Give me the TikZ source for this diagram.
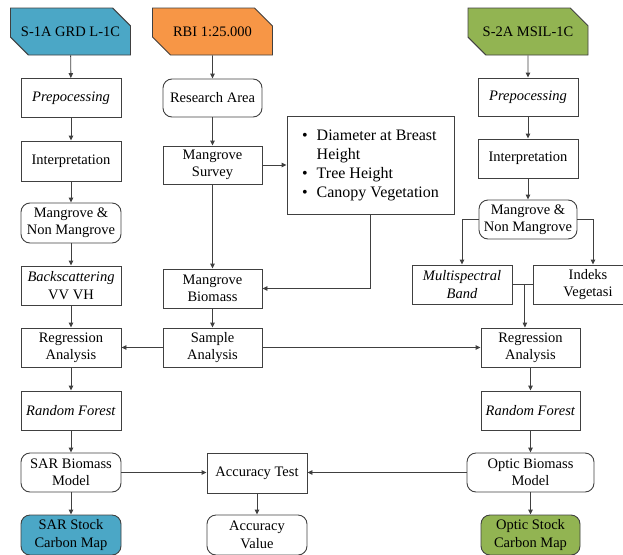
\documentclass[tikz,border=0pt]{standalone}
\usepackage{fontspec}
\setmainfont{Liberation Serif}
\usetikzlibrary{arrows.meta,shapes.misc,calc}
\newcommand\myfs{\fontsize{14.5}{17.4}\selectfont}
\newcommand\mybfs{\fontsize{16}{19.2}\selectfont}
\definecolor{cteal}{HTML}{4BA7C6}
\definecolor{corange}{HTML}{F79646}
\definecolor{cgreen}{HTML}{92B452}
\definecolor{linec}{HTML}{404040}
\tikzset{
  box/.style={draw=linec, line width=0.9pt, rectangle, minimum width=100pt, minimum height=39pt, align=center, inner sep=1pt, font=\myfs},
  rbox/.style={box, rounded corners=9pt},
  chbox/.style={box, chamfered rectangle, chamfered rectangle corners={north east,south west}, chamfered rectangle xsep=12pt, chamfered rectangle ysep=12pt, minimum width=120pt, minimum height=47pt},
  arr/.style={draw=linec, line width=0.9pt, -{Triangle[length=5pt,width=4.5pt]}},
  ln/.style={draw=linec, line width=0.9pt},
}
\begin{document}
\begin{tikzpicture}[x=1pt,y=-1pt]
\useasboundingbox (0,0) rectangle (623,554);
% left column
\node[chbox, fill=cteal] (s1) at (70.5,31.5) {S-1A GRD L-1C};
\node[box] (lp) at (71,98) {\textit{Prepocessing}};
\node[box, minimum height=40pt] (li) at (71,161) {Interpretation};
\node[rbox, minimum height=40pt] (lm) at (71,223) {Mangrove \&\\Non Mangrove};
\node[box] (lb) at (71,285.5) {\textit{Backscattering}\\VV VH};
\node[box] (lr) at (71,347.5) {Regression\\Analysis};
\node[box] (lrf) at (71,410.5) {\textit{Random Forest}};
\node[rbox] (lsb) at (71,472.5) {SAR Biomass\\Model};
\node[rbox, fill=cteal, minimum height=40pt] (lsc) at (71,535) {SAR Stock\\Carbon Map};
% middle column
\node[chbox, fill=corange] (rbi) at (212.5,31.5) {RBI 1:25.000};
\node[rbox, minimum width=99pt, minimum height=38pt] (ra) at (212.5,98) {Research Area};
\node[box, minimum width=99pt, minimum height=38pt] (ms) at (212.5,165) {Mangrove\\Survey};
\node[box, minimum width=167pt, minimum height=98pt, font=\mybfs] (bl) at (370.5,165) {%
  \begin{tabular}{@{}l@{\hspace{9pt}}l@{}}
  \textbullet & Diameter at Breast\\
   & Height\\
  \textbullet & Tree Height\\
  \textbullet & Canopy Vegetation
  \end{tabular}};
\node[box, minimum width=99pt] (mb) at (212.5,288.5) {Mangrove\\Biomass};
\node[box, minimum width=99pt] (sa) at (212.5,347.5) {Sample\\Analysis};
\node[box, minimum height=40pt] (at) at (257,473) {Accuracy Test};
\node[rbox, minimum height=40pt] (av) at (257,535) {Accuracy\\Value};
% right column
\node[chbox, fill=cgreen] (s2) at (528,31.5) {S-2A MSIL-1C};
\node[box, minimum height=38pt] (rp) at (528,97) {\textit{Prepocessing}};
\node[box] (ri) at (528,158.5) {Interpretation};
\node[rbox, minimum width=98pt] (rm) at (528,219.5) {Mangrove \&\\Non Mangrove};
\node[box] (mband) at (462,284.5) {\textit{Multispectral}\\\textit{Band}};
\node[box, minimum width=110pt] (iv) at (588,284.5) {Indeks\\Vegetasi};
\node[box, minimum width=99pt] (rr) at (530.5,347.5) {Regression\\Analysis};
\node[box, minimum width=99pt] (rrf) at (530.5,410.5) {\textit{Random Forest}};
\node[rbox, minimum width=127pt] (rob) at (530.5,472.5) {Optic Biomass\\Model};
\node[rbox, fill=cgreen, minimum width=99pt, minimum height=40pt] (rsc) at (530.5,535) {Optic Stock\\Carbon Map};
% left connectors
\draw[arr] (s1) -- (lp);
\draw[arr] (lp) -- (li);
\draw[arr] (li) -- (lm);
\draw[arr] (lm) -- (lb);
\draw[arr] (lb) -- (lr);
\draw[arr] (lr) -- (lrf);
\draw[arr] (lrf) -- (lsb);
\draw[arr] (lsb) -- (lsc);
% middle connectors
\draw[arr] (rbi) -- (ra);
\draw[arr] (ra) -- (ms);
\draw[arr] (ms) -- (mb);
\draw[arr] (mb) -- (sa);
\draw[arr] (ms.east) -- (bl.west |- ms.east);
\draw[arr] (bl.south) |- (mb.east);
\draw[arr] (sa.west) -- (lr.east);
\draw[arr] (sa.east) -- (rr.west);
\draw[arr] (lsb.east) -- (at.west |- lsb.east);
\draw[arr] (rob.west) -- (at.east |- rob.west);
\draw[arr] (at) -- (av);
% right connectors
\draw[arr] (s2) -- (rp);
\draw[arr] (rp) -- (ri);
\draw[arr] (ri) -- (rm);
\draw[arr] (rm.west) -| (mband.north);
\draw[arr] (rm.east) -| ($(iv.north)+(5,0)$);
\draw[ln] (mband.east) -- (iv.west);
\coordinate (jn) at ($(mband.east)!0.62!(iv.west)$);
\draw[arr] (jn) -- (jn |- rr.north);
\draw[arr] (rr) -- (rrf);
\draw[arr] (rrf) -- (rob);
\draw[arr] (rob) -- (rsc);
\end{tikzpicture}
\end{document}
